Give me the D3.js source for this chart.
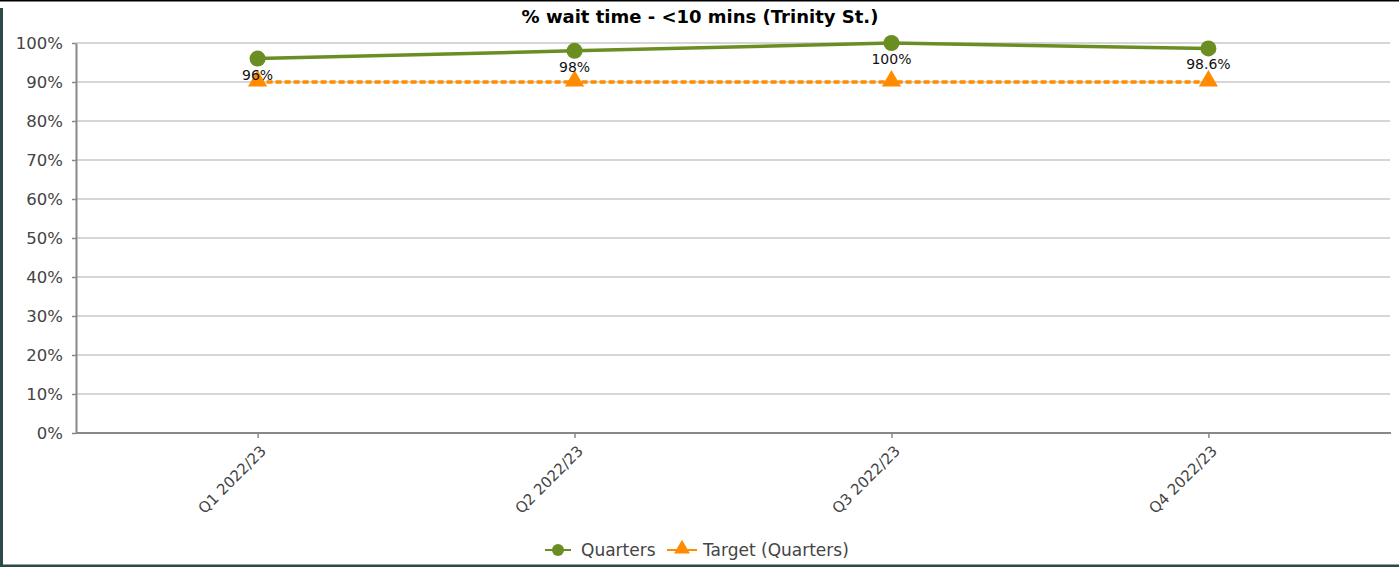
<!DOCTYPE html>
<html>
<head>
<meta charset="utf-8">
<script src="https://cdn.jsdelivr.net/npm/d3@7"></script>
<style>
  html, body { margin: 0; padding: 0; background: #fff; }
  svg { display: block; font-family: "DejaVu Sans", Verdana, sans-serif; }
</style>
</head>
<body>
<svg id="chart" width="1399" height="567"></svg>
<script>
// Quarterly share of waits under 10 minutes, with the target line
const categories = ["Q1 2022/23", "Q2 2022/23", "Q3 2022/23", "Q4 2022/23"];
const quarters = [96, 98, 100, 98.6];
const quarterLabels = ["96%", "98%", "100%", "98.6%"];
const target = [90, 90, 90, 90];
const yTicks = [0, 10, 20, 30, 40, 50, 60, 70, 80, 90, 100];
const title = "% wait time - <10 mins (Trinity St.)";
const seriesNames = ["Quarters", "Target (Quarters)"];

const W = 1399, H = 567;
const margin = { left: 76, right: 9, top: 43, bottom: 134 };
const green = "#6b8e23", orange = "#ff8c00";

const svg = d3.select("#chart");

// frame edges
svg.append("rect").attr("x", 0).attr("y", 0).attr("width", W).attr("height", 1.5).attr("fill", "#000");
svg.append("rect").attr("x", 0).attr("y", 8).attr("width", 3).attr("height", H - 8).attr("fill", "#2b4a48");
svg.append("rect").attr("x", 0).attr("y", H - 2.5).attr("width", W).attr("height", 2.5).attr("fill", "#2b4a48");

const x = d3.scalePoint().domain(categories)
  .range([margin.left, W - margin.right]).padding(0.573);
const y = d3.scaleLinear().domain([0, 100]).range([H - margin.bottom, margin.top]);

// title
svg.append("text").attr("x", 700).attr("y", 23).attr("text-anchor", "middle")
  .attr("font-size", 18).attr("font-weight", "bold").attr("fill", "#000").text(title);

// horizontal grid
svg.append("g").selectAll("line").data(yTicks.filter(d => d > 0)).join("line")
  .attr("x1", margin.left).attr("x2", W - margin.right)
  .attr("y1", d => y(d)).attr("y2", d => y(d))
  .attr("stroke", "#c8c8c8").attr("stroke-width", 1.5);

// y axis
const yAxis = svg.append("g").attr("transform", `translate(${margin.left},0)`)
  .call(d3.axisLeft(y).tickValues(yTicks).tickFormat(d => d + "%").tickSize(4).tickSizeOuter(0));
yAxis.select(".domain").attr("stroke", "#888").attr("stroke-width", 2);
yAxis.selectAll(".tick line").attr("stroke", "#888").attr("stroke-width", 1.5);
yAxis.selectAll("text").attr("font-size", 16.5).attr("fill", "#444")
  .attr("font-family", "'DejaVu Sans', sans-serif").attr("x", -13);

// x axis
const xAxis = svg.append("g").attr("transform", `translate(0,${H - margin.bottom})`)
  .call(d3.axisBottom(x).tickSize(5).tickSizeOuter(0));
xAxis.select(".domain").attr("stroke", "#888").attr("stroke-width", 2)
  .attr("d", `M${margin.left},0H${W - margin.right + 1}`);
xAxis.selectAll(".tick line").attr("stroke", "#888").attr("stroke-width", 1.5);
xAxis.selectAll("text").attr("font-size", 15).attr("fill", "#444")
  .attr("font-family", "'DejaVu Sans', sans-serif")
  .attr("text-anchor", "end").attr("dy", null).attr("y", 0)
  .attr("transform", "translate(9,19) rotate(-45)");

// target line
const tData = categories.map((c, i) => ({ c, v: target[i] }));
svg.append("path").datum(tData)
  .attr("d", d3.line().x(d => x(d.c)).y(d => y(d.v)))
  .attr("fill", "none").attr("stroke", orange).attr("stroke-width", 3.5)
  .attr("stroke-dasharray", "6,3");
const tri = d3.symbol().type(d3.symbolTriangle).size(160);
svg.append("g").selectAll("path").data(tData).join("path")
  .attr("d", tri).attr("fill", orange)
  .attr("transform", d => `translate(${x(d.c)},${y(d.v) - 1})`);

// quarters line
const qData = categories.map((c, i) => ({ c, v: quarters[i], label: quarterLabels[i] }));
svg.append("path").datum(qData)
  .attr("d", d3.line().x(d => x(d.c)).y(d => y(d.v)))
  .attr("fill", "none").attr("stroke", green).attr("stroke-width", 3.5);
svg.append("g").selectAll("circle").data(qData).join("circle")
  .attr("cx", d => x(d.c)).attr("cy", d => y(d.v)).attr("r", 8).attr("fill", green);

// value labels
svg.append("g").selectAll("text").data(qData).join("text")
  .attr("x", d => x(d.c)).attr("y", d => y(d.v) + 21)
  .attr("text-anchor", "middle").attr("font-size", 14).attr("fill", "#111")
  .text(d => d.label);

// legend
const lg = svg.append("g").attr("font-size", 17).attr("fill", "#444");
const ly = 550;
lg.append("line").attr("x1", 545).attr("x2", 571).attr("y1", ly).attr("y2", ly)
  .attr("stroke", green).attr("stroke-width", 2);
lg.append("circle").attr("cx", 558).attr("cy", ly).attr("r", 6).attr("fill", green);
lg.append("text").attr("x", 581).attr("y", ly + 6).text(seriesNames[0]);
lg.append("line").attr("x1", 667).attr("x2", 697).attr("y1", ly).attr("y2", ly)
  .attr("stroke", orange).attr("stroke-width", 2);
lg.append("path").attr("d", d3.symbol().type(d3.symbolTriangle).size(110))
  .attr("transform", `translate(682,${ly - 1})`).attr("fill", orange);
lg.append("text").attr("x", 703).attr("y", ly + 6).text(seriesNames[1]);
</script>
</body>
</html>
